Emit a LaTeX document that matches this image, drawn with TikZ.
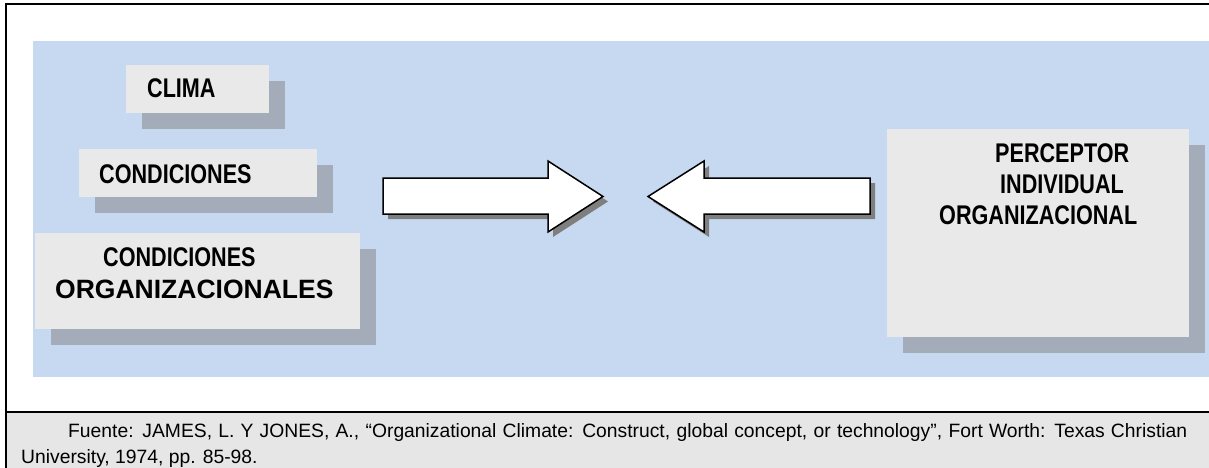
\documentclass[tikz,border=0pt]{standalone}
\usepackage{fontspec}
\setmainfont{Liberation Sans}
\newfontfamily\condfont[FakeStretch=0.8]{Liberation Sans}
\usetikzlibrary{shadows}
\definecolor{bluebg}{HTML}{C6D9F0}
\definecolor{boxfill}{HTML}{E9E9E9}
\definecolor{shadowc}{HTML}{A5ACB9}
\definecolor{footbg}{HTML}{E6E6E6}
\definecolor{arrowshadow}{HTML}{7F7F7F}
\tikzset{
  box/.style={fill=boxfill, draw=none, inner sep=0pt, anchor=north west,
    general shadow={fill=shadowc, shadow xshift=16pt, shadow yshift=-16pt}},
  lbl/.style={inner sep=0pt, anchor=base west,
    font=\condfont\bfseries\fontsize{27}{31}\selectfont},
  lblwide/.style={inner sep=0pt, anchor=base west,
    font=\bfseries\fontsize{26.5}{31}\selectfont},
  blockarrow/.style={fill=white, draw=black, line width=1.5pt, line join=miter,
    general shadow={fill=arrowshadow, shadow xshift=5pt, shadow yshift=-5pt}},
  frame/.style={draw=black, line width=2pt},
  foot/.style={inner sep=0pt, anchor=base west, font=\fontsize{19.3}{26}\selectfont}
}
\begin{document}
\begin{tikzpicture}[x=1pt,y=-1pt]
\useasboundingbox (0,0) rectangle (1209,468);
\fill[white] (0,0) rectangle (1209,468);
% footer background
\fill[footbg] (6,412) rectangle (1209,468);
% blue panel
\fill[bluebg] (33,41) rectangle (1209,377);
% frame
\draw[frame] (6,468) -- (6,4) -- (1209,4);
\draw[draw=black, line width=1.6pt] (6,412) -- (1209,412);

% left boxes
\node[box, minimum width=143pt, minimum height=48pt] (clima) at (126,65) {};
\node[box, minimum width=238pt, minimum height=48pt] (cond) at (79,149) {};
\node[box, minimum width=325pt, minimum height=96pt] (condorg) at (35,233) {};
% right box
\node[box, minimum width=302pt, minimum height=208pt] (perc) at (887,129) {};

% labels
\node[lbl] (tclima) at (147,98) {CLIMA};
\node[lbl] (tcond) at (99,183) {CONDICIONES};
\node[lbl] (tcond2) at (103,266) {CONDICIONES};
\node[lblwide] (torg) at (55,298) {ORGANIZACIONALES};
\node[lbl] (tperc) at (995,162) {PERCEPTOR};
\node[lbl] (tind) at (1000,193) {INDIVIDUAL};
\node[lbl] (torg2) at (939,224) {ORGANIZACIONAL};

% block arrows
\draw[blockarrow] (383,178) -- (548,178) -- (548,161) -- (603,196.5) -- (548,232) -- (548,214) -- (383,214) -- cycle;
\draw[blockarrow] (870,178) -- (704,178) -- (704,161) -- (648,196.5) -- (704,232) -- (704,214) -- (870,214) -- cycle;

% footer text
\node[foot] (f1) at (68,437) {\makebox[1119pt][s]{Fuente: JAMES, L. Y JONES, A., “Organizational Climate: Construct, global concept, or technology”, Fort Worth: Texas Christian}};
\node[foot] (f2) at (21,463) {University, 1974, pp. 85-98.};
\end{tikzpicture}
\end{document}
